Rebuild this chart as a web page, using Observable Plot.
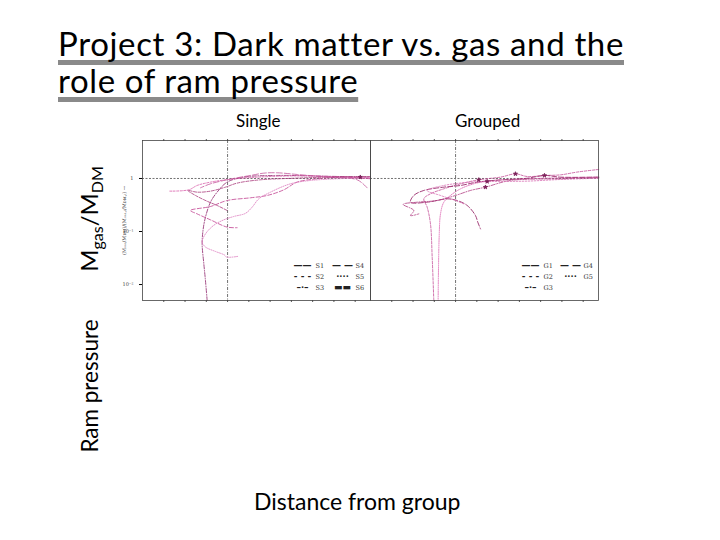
<!DOCTYPE html>
<html><head><meta charset="utf-8">
<script src="https://cdn.jsdelivr.net/npm/d3@7"></script>
<script src="https://cdn.jsdelivr.net/npm/@observablehq/plot@0.6"></script>
<style>
body{margin:0;width:720px;height:540px;position:relative;background:#fff;font-family:Lato,"Open Sans",sans-serif;overflow:hidden;color:#000}
.title{position:absolute;left:58px;font-size:33px;line-height:36px;letter-spacing:0.65px;white-space:nowrap;text-decoration:underline;text-decoration-color:#8a8a8a;text-decoration-thickness:5px;text-underline-offset:4px;text-decoration-skip-ink:none}
.lab{position:absolute;white-space:nowrap}
.rot{position:absolute;white-space:nowrap;transform:translate(-50%,-50%) rotate(-90deg)}
#chart{position:absolute;left:100px;top:130px}
</style></head>
<body>
<div class="title" style="top:25px">Project 3: Dark matter vs. gas and the</div>
<div class="title" style="top:62px;letter-spacing:0.6px">role of ram pressure</div>
<div class="lab" style="left:236px;top:110px;font-size:17px">Single</div>
<div class="lab" style="left:455px;top:110px;font-size:17px">Grouped</div>
<div class="rot" style="left:90px;top:219px;font-size:24px">M<sub style="font-size:16px">gas</sub>/M<sub style="font-size:16px">DM</sub></div>
<div class="rot" style="left:89px;top:386px;font-size:22.5px">Ram pressure</div>
<div class="lab" style="left:254px;top:487px;font-size:23px">Distance from group</div>
<div id="chart"></div>
<script>
// panels
const panels = ["Single", "Grouped"];
// Single-galaxy tracks (distance, Mgas/MDM normalised)
const S1x = [0.76,0.74,0.721,0.701,0.711,0.74,0.799,0.877,0.995,1.191,1.583,2.17,2.679];
const S1y = [0.005,0.0119,0.0245,0.058,0.104,0.186,0.357,0.552,0.853,1.06,1.14,1.10,1.06];
const S2x = [0.321,0.544,0.642,0.799,0.995,1.27,1.583,1.974,2.366,2.679];
const S2y = [0.577,0.611,0.738,0.853,0.95,1.04,1.10,1.12,1.06,1.02];
const S3x = [2.679,2.366,2.052,1.817,1.661,1.465,1.27,0.995,0.799,0.564,0.642,0.799,0.995,1.112];
const S3y = [0.986,1.06,0.986,0.853,0.611,0.478,0.432,0.384,0.296,0.249,0.215,0.166,0.121,0.118];
const S4x = [2.64,2.523,2.17,1.817,1.583,1.426,1.27,1.112,0.956,0.799,0.682];
const S4y = [0.667,0.944,1.06,1.19,1.28,1.26,1.14,1.03,0.917,0.793,0.667];
const S5x = [2.679,2.287,1.974,1.739,1.504,1.367,1.289,1.21,1.073,0.956,0.838,0.74,0.701,0.74,0.858,0.964,0.987,1.124];
const S5y = [1.03,0.986,0.917,0.793,0.552,0.413,0.288,0.22,0.192,0.166,0.131,0.09,0.063,0.051,0.042,0.036,0.033,0.034];
const S6x = [2.679,2.17,1.778,1.387,1.112,0.975,0.799,0.642,0.533,0.623,0.76,0.877,0.995];
const S6y = [1.09,1.06,1.01,0.944,0.817,0.686,0.577,0.552,0.594,0.478,0.372,0.31,0.249];
// Grouped-galaxy tracks
const G1x = [2.683,2.233,1.841,1.528,1.371,1.214,1.058,0.94,0.862,0.823,0.807,0.799,0.795];
const G1y = [1.06,1.03,0.986,0.944,0.891,0.793,0.638,0.478,0.357,0.215,0.078,0.0184,0.005];
const G2x = [2.683,2.429,2.233,2.057,1.841,1.704,1.528,1.273,1.058,0.862,0.705,0.627,0.666,0.705,0.725,0.744];
const G2y = [1.48,1.32,1.17,1.14,1.09,1.22,1.06,0.944,0.793,0.638,0.514,0.413,0.288,0.139,0.033,0.005];
const G3x = [2.683,2.233,2.045,1.841,1.449,1.253,1.058,0.862,0.627,0.509,0.47,0.666,0.901,1.018,1.136,1.234,1.261,1.293];
const G3y = [1.06,1.06,1.14,1.01,0.917,0.853,0.738,0.686,0.594,0.478,0.357,0.357,0.413,0.384,0.31,0.2,0.15,0.112];
const G4x = [2.683,2.233,1.645,1.351,1.175,0.999,0.783,0.548,0.384,0.509,0.47,0.568];
const G4y = [1.03,0.986,0.917,0.686,0.594,0.478,0.384,0.357,0.324,0.249,0.2,0.215];
const G5x = [2.683,2.233,1.841,1.449,1.175,0.862,0.666,0.823,0.999,1.097];
const G5y = [1.01,0.957,0.891,0.877,0.853,0.738,0.594,0.478,0.384,0.332];
// star markers (pericentre points)
const starPanel = ["Single","Grouped","Grouped","Grouped","Grouped","Grouped"];
const starX = [2.56,1.273,1.371,1.351,1.704,2.045];
const starY = [1.06,0.944,0.877,0.686,1.22,1.14];
// legend labels
const singleLabels = ["S1","S2","S3","S4","S5","S6"];
const groupLabels = ["G1","G2","G3","G4","G5"];
// y ticks
const yTicks = [0.01, 0.1, 1];
const yTickLabels = ["10\u207B\u00B2", "10\u207B\u00B9", "1"];

const series = [
  {panel:"Single", name:"S1", x:S1x, y:S1y, color:"#9a3a7a", dash:"4,1.5,1,1.5", w:0.9},
  {panel:"Single", name:"S2", x:S2x, y:S2y, color:"#d85aa8", dash:"2,1.5", w:0.8},
  {panel:"Single", name:"S3", x:S3x, y:S3y, color:"#c0408f", dash:"4,2", w:0.8},
  {panel:"Single", name:"S4", x:S4x, y:S4y, color:"#c4559a", dash:"6,2", w:0.8},
  {panel:"Single", name:"S5", x:S5x, y:S5y, color:"#dc78bc", dash:"1,1.3", w:0.8},
  {panel:"Single", name:"S6", x:S6x, y:S6y, color:"#a8397a", dash:"3,1.5", w:0.8},
  {panel:"Grouped", name:"G1", x:G1x, y:G1y, color:"#e070b8", dash:"1,1.2", w:0.9},
  {panel:"Grouped", name:"G2", x:G2x, y:G2y, color:"#c34b95", dash:"2.5,1.5", w:0.8},
  {panel:"Grouped", name:"G3", x:G3x, y:G3y, color:"#9a2b6c", dash:"5,2", w:0.9},
  {panel:"Grouped", name:"G4", x:G4x, y:G4y, color:"#b03a80", dash:"4,1.5,1,1.5", w:0.8},
  {panel:"Grouped", name:"G5", x:G5x, y:G5y, color:"#d870b4", dash:"1.5,1.5", w:0.8}
];
const lineMarks = series.map(s => Plot.line(
  s.x.map((v,i)=>({panel:s.panel, x:v, y:s.y[i]})),
  {fx:"panel", x:"x", y:"y", stroke:s.color, strokeWidth:s.w, strokeDasharray:s.dash, curve:"catmull-rom"}
));
const stars = starX.map((v,i)=>({panel:starPanel[i], x:v, y:starY[i]}));

const glyphs = ["\u2014\u2014","- - -","\u2013\u00B7\u2013","\u2014 \u2014","\u00B7\u00B7\u00B7\u00B7","\u25AC\u25AC"];
const legendMarks = [];
[[ "Single", singleLabels],["Grouped", groupLabels]].forEach(([p, labs]) => {
  labs.forEach((lab, i) => {
    const col = Math.floor(i/3), row = i%3;
    legendMarks.push(Plot.text([{panel:p}], {fx:"panel", frameAnchor:"bottom-right", text:()=>glyphs[i],
      dx: -68 + col*40, dy: -33 + row*11, textAnchor:"middle", fontSize:9, fontWeight:"bold", fill:"#222"}));
    legendMarks.push(Plot.text([{panel:p}], {fx:"panel", frameAnchor:"bottom-right", text:()=>lab,
      dx: -55 + col*40, dy: -33 + row*11, textAnchor:"start", fontSize:6.5, fill:"#333", fontFamily:"DejaVu Serif"}));
  });
});

const chart = Plot.plot({
  width: 520, height: 180,
  marginLeft: 42, marginRight: 22, marginTop: 10, marginBottom: 10,
  fx: {domain: panels, padding: 0, axis: null},
  x: {domain: [0, 2.68]},
  y: {type: "log", domain: [0.005, 5.2]},
  style: {fontFamily: "DejaVu Serif", background: "transparent"},
  marks: [
    Plot.ruleY([1], {stroke:"#333", strokeWidth:0.7, strokeDasharray:"2,1.5"}),
    Plot.ruleX([1], {stroke:"#333", strokeWidth:0.7, strokeDasharray:"3,1.5,1,1.5"}),
    ...lineMarks,
    Plot.dot(stars, {fx:"panel", x:"x", y:"y", symbol:"star", r:1.3, fill:"#7a2058", stroke:"#7a2058", strokeWidth:0.8}),
    ...legendMarks,
    Plot.axisX({anchor:"bottom", ticks: d3.range(0.25, 2.68, 0.25), tickSize: 2, tickFormat: () => "", label: null, stroke:"#555"}),
    Plot.axisX({anchor:"top", ticks: d3.range(0.25, 2.68, 0.25), tickSize: 2, tickFormat: () => "", label: null, stroke:"#555"}),
    Plot.axisY({ticks: yTicks, tickFormat: d => yTickLabels[yTicks.indexOf(d)], tickSize: 3, fontSize: 5, fill:"#444",
      label: "(M\u2092\u2090\u209B/M\u1D05\u1D0D)/(M\u2092\u2090\u209B,\u1D62/M\u1D05\u1D0D,\u1D62)", labelAnchor: "center", labelOffset: 20}),
    Plot.frame({stroke:"#444", strokeWidth:0.8})
  ]
});
document.getElementById("chart").appendChild(chart);
</script>
</body></html>
